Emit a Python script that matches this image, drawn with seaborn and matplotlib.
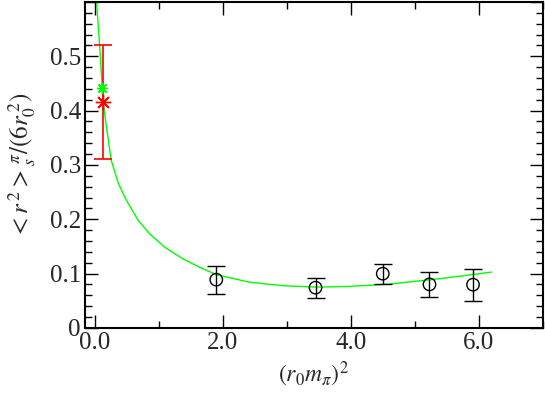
# Pion charge radius vs (r0 m_pi)^2 -- lattice points, chiral fit curve
import numpy as np
import pandas as pd
import matplotlib
matplotlib.use("Agg")
import matplotlib.pyplot as plt
import seaborn as sns
from matplotlib.ticker import MultipleLocator, FuncFormatter

# ---- data ----
lat_x = [1.90, 3.45, 4.50, 5.23, 5.91]
lat_y = [0.0887, 0.0740, 0.0997, 0.0800, 0.0795]
lat_err_lo = [0.0267, 0.0185, 0.0197, 0.0233, 0.0305]
lat_err_hi = [0.0253, 0.0170, 0.0183, 0.0227, 0.0285]

exp_x = [0.13]
exp_y = [0.415]
exp_err_lo = [0.104]
exp_err_hi = [0.105]

phys_x = [0.12]
phys_y = [0.441]

fit_x = [0.03, 0.09, 0.13, 0.17, 0.26, 0.37, 0.50, 0.68, 0.86, 1.10,
         1.38, 1.65, 1.90, 2.42, 2.94, 3.46, 3.98, 4.61, 5.39, 6.20]
fit_y = [0.600, 0.500, 0.418, 0.382, 0.308, 0.266, 0.234, 0.198, 0.173, 0.148,
         0.127, 0.111, 0.098, 0.084, 0.0776, 0.0750, 0.0763, 0.0806, 0.0905, 0.1027]

fit_df = pd.DataFrame({"x": fit_x, "y": fit_y})

# ---- style ----
sns.set_style("ticks")
plt.rcParams["font.family"] = ["Liberation Serif", "DejaVu Serif"]
plt.rcParams["mathtext.fontset"] = "stix"

fig = plt.figure(figsize=(5.45, 3.95), dpi=100)
ax = fig.add_axes([0.156, 0.170, 0.840, 0.825])

# fit curve
sns.lineplot(data=fit_df, x="x", y="y", sort=False, estimator=None,
             color="#00ff00", linewidth=1.0, ax=ax)

# lattice points
ax.errorbar(lat_x, lat_y, yerr=[lat_err_lo, lat_err_hi], fmt="none",
            ecolor="black", elinewidth=1.0, capsize=6.5, capthick=1.0)
sns.scatterplot(x=lat_x, y=lat_y, marker="o", s=80, facecolors="none",
                edgecolor="black", linewidth=1.0, ax=ax, zorder=3)

# experimental value
ax.errorbar(exp_x, exp_y, yerr=[exp_err_lo, exp_err_hi], fmt="none",
            ecolor="red", elinewidth=1.2, capsize=6.5, capthick=1.2)
ax.plot(exp_x, exp_y, linestyle="none", marker=(8, 2, 0), markersize=11,
        color="red", markeredgewidth=1.0)

# extrapolated physical point
ax.plot(phys_x, phys_y, linestyle="none", marker=(8, 2, 0), markersize=8,
        color="#00ff00", markeredgewidth=1.0)

# ---- axes ----
ax.set_xlim(-0.15, 7.0)
ax.set_ylim(0, 0.6)
ax.xaxis.set_major_locator(MultipleLocator(2.0))
ax.xaxis.set_minor_locator(MultipleLocator(1.0))
ax.yaxis.set_major_locator(MultipleLocator(0.1))
ax.yaxis.set_minor_locator(MultipleLocator(0.02))
ax.xaxis.set_major_formatter(FuncFormatter(lambda v, p: f"{v:.1f}"))
ax.yaxis.set_major_formatter(
    FuncFormatter(lambda v, p: "0" if abs(v) < 1e-9 else ("" if v > 0.55 else f"{v:.1f}")))

ax.tick_params(which="both", direction="in", top=True, right=True,
               labelsize=18, width=1.0, color="black")
ax.tick_params(which="major", length=9.5, pad=3)
ax.tick_params(which="minor", length=5)
for s in ax.spines.values():
    s.set_linewidth(1.5)
    s.set_color("black")

ax.set_xlabel(r"$(r_0m_\pi)^2$", fontsize=17, labelpad=4)
ax.set_ylabel(r"${<}r^{\,2}{>}_s^{\,\pi}/(6r_0^{\;2})$", fontsize=18, labelpad=8)

fig.savefig("out.png", dpi=100)
